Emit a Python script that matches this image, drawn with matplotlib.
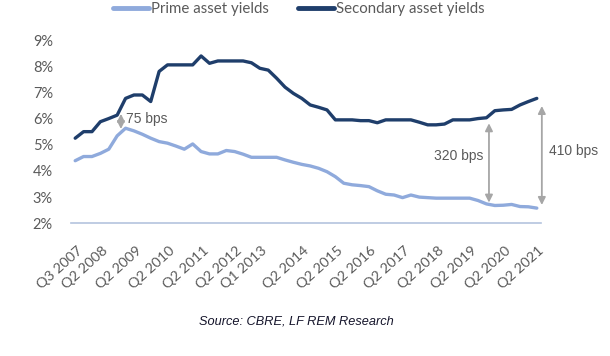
import matplotlib
matplotlib.use("Agg")
import matplotlib.pyplot as plt
import matplotlib.transforms as mtransforms
import numpy as np

# quarterly categories Q3 2007 .. Q2 2021
categories = [f"Q{q} {y}" for y in range(2007, 2022) for q in range(1, 5)][2:-2]
prime = [4.39, 4.55, 4.55, 4.67, 4.83, 5.34, 5.63, 5.53, 5.40, 5.25,
         5.12, 5.06, 4.95, 4.83, 5.03, 4.74, 4.65, 4.65, 4.78, 4.74,
         4.64, 4.52, 4.52, 4.52, 4.52, 4.42, 4.33, 4.25, 4.19, 4.10,
         3.97, 3.78, 3.53, 3.47, 3.44, 3.40, 3.24, 3.11, 3.08, 2.98,
         3.08, 3.00, 2.98, 2.96, 2.96, 2.96, 2.96, 2.96, 2.87, 2.74,
         2.68, 2.69, 2.72, 2.64, 2.63, 2.58]
secondary = [5.25, 5.50, 5.50, 5.88, 6.00, 6.13, 6.77, 6.90, 6.90, 6.65,
             7.80, 8.05, 8.05, 8.05, 8.05, 8.39, 8.11, 8.20, 8.20, 8.20,
             8.20, 8.13, 7.92, 7.85, 7.54, 7.20, 6.96, 6.77, 6.52, 6.43,
             6.33, 5.95, 5.95, 5.95, 5.92, 5.92, 5.84, 5.95, 5.95, 5.95,
             5.95, 5.86, 5.76, 5.76, 5.79, 5.95, 5.95, 5.95, 6.00, 6.03,
             6.30, 6.33, 6.35, 6.52, 6.65, 6.77]
tick_labels = ["Q3 2007", "Q2 2008", "Q2 2009", "Q2 2010", "Q2 2011",
               "Q2 2012", "Q1 2013", "Q2 2014", "Q2 2015", "Q2 2016",
               "Q2 2017", "Q2 2018", "Q2 2019", "Q2 2020", "Q2 2021"]
y_ticks = [2, 3, 4, 5, 6, 7, 8, 9]

# spread annotations: (x index, y_top, y_bottom, label, label_x, label_y, ha)
spreads = [
    (5.45, 6.18, 5.60, "75 bps", 6.1, 5.97, "left"),
    (49.3, 5.82, 2.79, "320 bps", 48.6, 4.57, "right"),
    (55.6, 6.48, 2.70, "410 bps", 56.5, 4.76, "left"),
]

PRIME_C = "#8FAADC"
SEC_C = "#1F3E6B"
GRAY = "#5a5a5a"
ARROW_C = "#A6A6A6"
FONT = "Lato"

fig = plt.figure(figsize=(6.10, 3.56), dpi=100)
ax = fig.add_axes([71 / 610, (356 - 223.3) / 356, 470 / 610, (223.3 - 40) / 356])

x = np.arange(len(prime))
ax.plot(x, prime, color=PRIME_C, lw=2.4, label="Prime asset yields", solid_capstyle="round")
ax.plot(x, secondary, color=SEC_C, lw=2.4, label="Secondary asset yields", solid_capstyle="round")

ax.set_xlim(-0.5, len(prime) - 0.5)
ax.set_ylim(2, 9)
ax.set_yticks(y_ticks)
ax.set_yticklabels([f"{v}%" for v in y_ticks], fontfamily=FONT,
                   fontsize=10.5, color=GRAY)
ax.set_xticks([categories.index(t) for t in tick_labels])
ax.set_xticklabels(tick_labels, rotation=42, ha="right", rotation_mode="anchor",
                   fontfamily=FONT, fontsize=10.4, color=GRAY)
ax.tick_params(axis="both", length=0)
ax.tick_params(axis="y", pad=13)
ax.tick_params(axis="x", pad=15)
offset = mtransforms.ScaledTranslation(1.5 / 100, 0, fig.dpi_scale_trans)
for lab in ax.get_xticklabels():
    lab.set_transform(lab.get_transform() + offset)
for s in ["top", "right", "left"]:
    ax.spines[s].set_visible(False)
ax.spines["bottom"].set_color("#B4C3DE")
ax.spines["bottom"].set_linewidth(1.2)

for xi, yt, yb, lab, lx, ly, ha in spreads:
    ax.annotate("", xy=(xi, yb), xytext=(xi, yt), annotation_clip=False,
                arrowprops=dict(arrowstyle="<|-|>", color=ARROW_C, lw=1.3,
                                mutation_scale=11, shrinkA=0, shrinkB=0))
    ax.text(lx, ly, lab, ha=ha, va="center", fontfamily="Liberation Sans",
            fontsize=10, color=GRAY)

leg = fig.legend(loc="upper center", bbox_to_anchor=(0.49, 1.032), ncol=2, frameon=False,
                 prop={"family": FONT, "size": 10.8}, handlelength=2.4,
                 handletextpad=0.15, columnspacing=1.9)
for t in leg.get_texts():
    t.set_color(GRAY)
for h in leg.get_lines():
    h.set_linewidth(3.5)

fig.text(0.486, (356 - 322) / 356, "Source: CBRE, LF REM Research", ha="center", va="center",
         fontfamily="Liberation Sans", style="italic", fontsize=9.2, color="#14142a")

fig.savefig("out.png", dpi=100)
